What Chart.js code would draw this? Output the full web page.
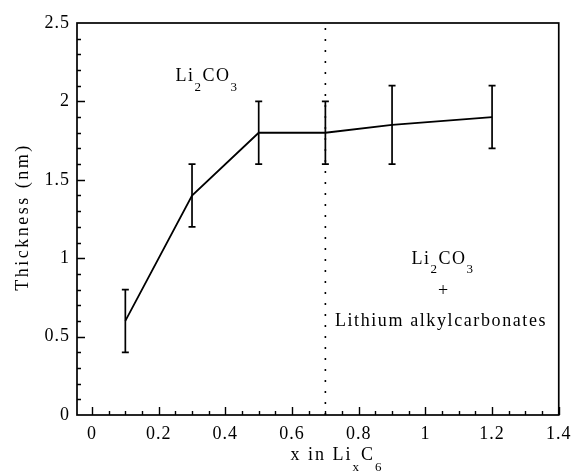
<!DOCTYPE html>
<html>
<head>
<meta charset="utf-8">
<script src="https://cdn.jsdelivr.net/npm/chart.js@4.4.1/dist/chart.umd.min.js"></script>
<style>
  html, body { margin: 0; padding: 0; background: #fff; }
  #wrap { width: 578px; height: 476px; position: relative; }
</style>
</head>
<body>
<div id="wrap"><canvas id="c" width="578" height="476"></canvas></div>
<script>
// ---- data ----
const xValues   = [0.1, 0.3, 0.5, 0.7, 0.9, 1.2];
const thickness = [0.6, 1.4, 1.8, 1.8, 1.85, 1.9];
const errLow    = [0.4, 1.2, 1.6, 1.6, 1.6, 1.7];
const errHigh   = [0.8, 1.6, 2.0, 2.0, 2.1, 2.1];
const xTicks    = [0, 0.2, 0.4, 0.6, 0.8, 1, 1.2, 1.4];
const yTicks    = [0, 0.5, 1, 1.5, 2, 2.5];
const dividerX  = 0.7;
const yTitle    = 'Thickness (nm)';
const xTitle    = [{t: 'x in Li'}, {t: 'x', sub: true}, {t: 'C'}, {t: '6', sub: true}];
const label1    = [{t: 'Li'}, {t: '2', sub: true}, {t: 'CO'}, {t: '3', sub: true}];
const label2a   = [{t: 'Li'}, {t: '2', sub: true}, {t: 'CO'}, {t: '3', sub: true}];
const label2b   = '+';
const label2c   = 'Lithium alkylcarbonates';

const FONT = "'Liberation Serif', 'Times New Roman', serif";

function richWidth(ctx, segs, size, subSize, ls) {
  let w = 0;
  for (const s of segs) {
    ctx.font = (s.sub ? subSize : size) + 'px ' + FONT;
    ctx.letterSpacing = ls + 'px';
    w += ctx.measureText(s.t).width;
  }
  return w;
}
function drawRich(ctx, segs, cx, baseline, size, subSize, subDrop, ls) {
  const w = richWidth(ctx, segs, size, subSize, ls);
  let x = cx - w / 2;
  ctx.textAlign = 'left';
  ctx.textBaseline = 'alphabetic';
  for (const s of segs) {
    ctx.font = (s.sub ? subSize : size) + 'px ' + FONT;
    ctx.letterSpacing = ls + 'px';
    ctx.fillText(s.t, x, baseline + (s.sub ? subDrop : 0));
    x += ctx.measureText(s.t).width;
  }
}

const decor = {
  id: 'decor',
  beforeDraw(chart) {
    chart.ctx.letterSpacing = '1px';
  },
  beforeDatasetsDraw(chart) {
    const ctx = chart.ctx, xs = chart.scales.x, a = chart.chartArea;
    ctx.save();
    ctx.strokeStyle = '#000';
    ctx.lineWidth = 1.6;
    ctx.setLineDash([2, 9]);
    const dx = xs.getPixelForValue(dividerX);
    ctx.beginPath();
    ctx.moveTo(dx, a.bottom);
    ctx.lineTo(dx, a.top);
    ctx.stroke();
    ctx.restore();
  },
  afterDatasetsDraw(chart) {
    const ctx = chart.ctx, xs = chart.scales.x, ys = chart.scales.y, a = chart.chartArea;
    ctx.save();
    ctx.strokeStyle = '#000';
    ctx.fillStyle = '#000';
    ctx.setLineDash([]);
    // error bars
    ctx.lineWidth = 1.7;
    xValues.forEach((xv, i) => {
      const px = xs.getPixelForValue(xv);
      const lo = ys.getPixelForValue(errLow[i]);
      const hi = ys.getPixelForValue(errHigh[i]);
      ctx.beginPath();
      ctx.moveTo(px, lo); ctx.lineTo(px, hi);
      ctx.moveTo(px - 3.5, lo); ctx.lineTo(px + 3.5, lo);
      ctx.moveTo(px - 3.5, hi); ctx.lineTo(px + 3.5, hi);
      ctx.stroke();
    });
    // frame
    ctx.lineWidth = 1.7;
    ctx.strokeRect(a.left, a.top, a.right - a.left, a.bottom - a.top);
    // inward ticks
    ctx.lineWidth = 1.4;
    ctx.beginPath();
    for (let k = 0; k <= 28; k++) {
      const v = k * 0.05;
      const px = Math.round(xs.getPixelForValue(v)) + 0.5;
      const len = (k % 4 === 0) ? 8 : 4;
      ctx.moveTo(px, a.bottom); ctx.lineTo(px, a.bottom - len);
    }
    for (let k = 1; k <= 24; k++) {
      const v = k * 0.1;
      const py = Math.round(ys.getPixelForValue(v)) + 0.5;
      const len = (k % 5 === 0) ? 8 : 4;
      ctx.moveTo(a.left, py); ctx.lineTo(a.left + len, py);
    }
    ctx.stroke();

    // annotations
    drawRich(ctx, label1, 207, 81, 18, 13, 10, 1.5);
    drawRich(ctx, label2a, 443, 264, 18, 13, 9, 1.5);
    ctx.font = '18px ' + FONT;
    ctx.letterSpacing = '0px';
    ctx.textAlign = 'center';
    ctx.fillText(label2b, 443, 296);
    ctx.font = '18px ' + FONT;
    ctx.letterSpacing = '1.6px';
    ctx.fillText(label2c, 441, 326);

    // axis titles
    drawRich(ctx, xTitle, 337, 460, 18, 13, 11, 2);
    ctx.save();
    ctx.translate(28, 217);
    ctx.rotate(-Math.PI / 2);
    ctx.font = '18px ' + FONT;
    ctx.letterSpacing = '2.5px';
    ctx.textAlign = 'center';
    ctx.textBaseline = 'alphabetic';
    ctx.fillText(yTitle, 0, 0);
    ctx.restore();
    ctx.restore();
  }
};

new Chart(document.getElementById('c'), {
  type: 'scatter',
  data: {
    datasets: [{
      data: xValues.map((x, i) => ({x: x, y: thickness[i]})),
      showLine: true,
      borderColor: '#000',
      borderWidth: 1.8,
      pointRadius: 0,
      tension: 0
    }]
  },
  options: {
    responsive: false,
    animation: false,
    devicePixelRatio: 1,
    layout: { padding: { top: 23, right: 14, left: 0, bottom: 0 } },
    plugins: { legend: { display: false }, tooltip: { enabled: false } },
    scales: {
      x: {
        type: 'linear',
        min: -0.045, max: 1.4,
        grid: { display: false, drawTicks: false },
        border: { display: false },
        afterBuildTicks: s => { s.ticks = xTicks.map(v => ({value: v})); },
        afterFit: s => { s.height = 61; },
        ticks: {
          color: '#000', padding: 8, maxRotation: 0, autoSkip: false,
          font: { family: FONT, size: 18 },
          callback: v => String(+v.toFixed(2))
        }
      },
      y: {
        type: 'linear',
        min: 0, max: 2.5,
        grid: { display: false, drawTicks: false },
        border: { display: false },
        afterBuildTicks: s => { s.ticks = yTicks.map(v => ({value: v})); },
        afterFit: s => { s.width = 77; },
        ticks: {
          color: '#000', padding: 7, autoSkip: false,
          font: { family: FONT, size: 18 },
          callback: v => String(+v.toFixed(2))
        }
      }
    }
  },
  plugins: [decor]
});
</script>
</body>
</html>
